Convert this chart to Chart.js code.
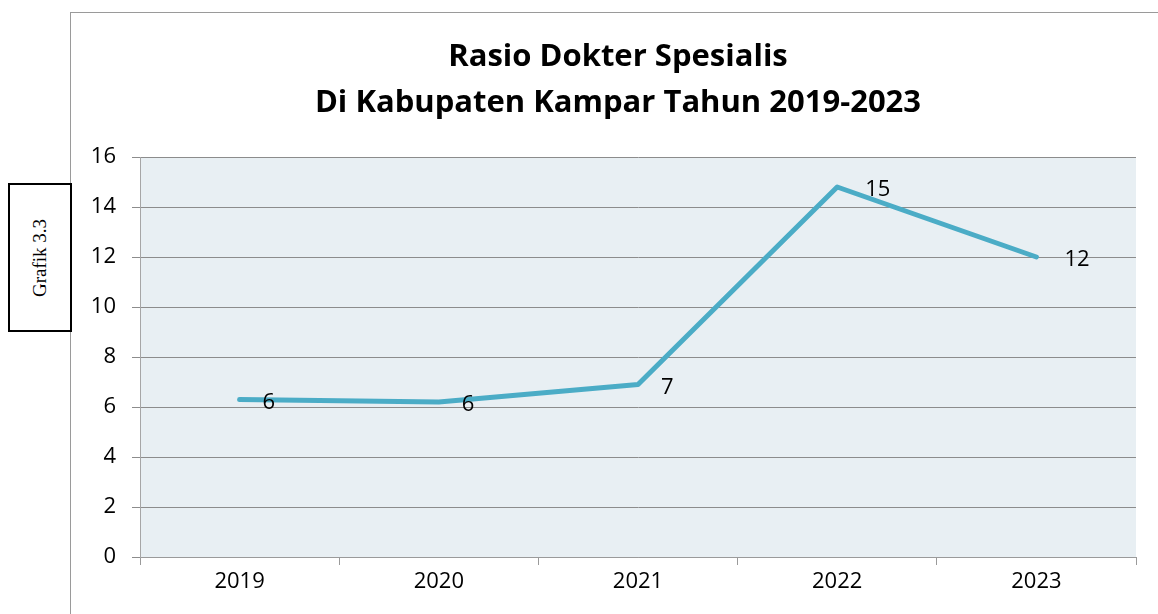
<!DOCTYPE html>
<html>
<head>
<meta charset="utf-8">
<script src="https://cdn.jsdelivr.net/npm/chart.js@4.4.0/dist/chart.umd.min.js"></script>
<style>
    html, body { margin: 0; padding: 0; background: #fff; }
    #wrap { position: relative; width: 1158px; height: 614px; overflow: hidden; }
    #frame { position: absolute; left: 70px; top: 12px; width: 1200px; height: 700px;
             border-left: 1px solid #9a9a9a; border-top: 1px solid #9a9a9a; }
    #chart { position: absolute; left: 0; top: 0; }
    #label-box { position: absolute; left: 8px; top: 183px; width: 60px; height: 145px;
                 border: 2px solid #000; background: #fff; }
    #label-box span { position: absolute; left: 50%; top: 50%; white-space: nowrap;
                      transform: translate(-50%, -50%) rotate(-90deg);
                      font-family: "Liberation Serif", "DejaVu Serif", serif; font-size: 19px; color: #000; }
</style>
</head>
<body>
<div id="wrap">
    <div id="frame"></div>
    <canvas id="chart" width="1158" height="614"></canvas>
    <div id="label-box"><span>Grafik 3.3</span></div>
</div>
<script>
const years = ['2019', '2020', '2021', '2022', '2023'];
const ratio = [6.3, 6.2, 6.9, 14.8, 12.0];
const pointLabels = ['6', '6', '7', '15', '12'];
const titleLines = ['Rasio Dokter Spesialis', 'Di Kabupaten Kampar Tahun 2019-2023'];

const FONT = '"Open Sans", "Liberation Sans", sans-serif';

// plot area background
const plotBg = {
    id: 'plotBg',
    beforeDraw(chart) {
        const { ctx, chartArea: a } = chart;
        ctx.save();
        ctx.fillStyle = '#e8eff3';
        ctx.fillRect(a.left, a.top, a.right - a.left, a.bottom - a.top);
        ctx.restore();
    }
};

// title centred over the whole frame (not only the plot), like the original
const frameTitle = {
    id: 'frameTitle',
    afterDraw(chart) {
        const { ctx } = chart;
        ctx.save();
        ctx.font = 'bold 31px ' + FONT;
        ctx.fillStyle = '#000';
        ctx.textAlign = 'center';
        ctx.textBaseline = 'middle';
        titleLines.forEach((line, i) => ctx.fillText(line, 618, 57 + i * 46));
        ctx.restore();
    }
};

// value labels to the right of each point
const valueLabels = {
    id: 'valueLabels',
    afterDatasetsDraw(chart) {
        const { ctx } = chart;
        const meta = chart.getDatasetMeta(0);
        ctx.save();
        ctx.font = '22px ' + FONT;
        ctx.fillStyle = '#000';
        ctx.textAlign = 'left';
        ctx.textBaseline = 'middle';
        meta.data.forEach((pt, i) => {
            const dx = pointLabels[i].length > 1 ? 28 : 23;
            ctx.fillText(pointLabels[i], pt.x + dx, pt.y + 3);
        });
        ctx.restore();
    }
};

new Chart(document.getElementById('chart'), {
    type: 'line',
    data: {
        labels: years,
        datasets: [{
            data: ratio,
            borderColor: '#4bacc6',
            borderWidth: 5,
            pointRadius: 0,
            tension: 0,
            borderCapStyle: 'round',
            borderJoinStyle: 'round'
        }]
    },
    options: {
        responsive: false,
        animation: false,
        layout: { padding: { left: 70, right: 22, top: 157, bottom: 0 } },
        plugins: {
            legend: { display: false },
            tooltip: { enabled: false },
            title: { display: false }
        },
        scales: {
            x: {
                offset: true,
                grid: { offset: true, drawOnChartArea: false, drawTicks: true, tickLength: 8, color: '#9a9a9a' },
                border: { display: true, color: '#9a9a9a' },
                ticks: { color: '#000', font: { family: FONT, size: 22 }, padding: 4 },
                afterFit(scale) { scale.height = 57; }
            },
            y: {
                min: 0,
                max: 16,
                ticks: { stepSize: 2, color: '#000', font: { family: FONT, size: 22 }, padding: 16 },
                grid: { color: '#8c8c8c', tickLength: 8 },
                border: { display: true, color: '#a6a6a6' },
                afterFit(scale) { scale.width = 70; }
            }
        }
    },
    plugins: [plotBg, valueLabels, frameTitle]
});
</script>
</body>
</html>
